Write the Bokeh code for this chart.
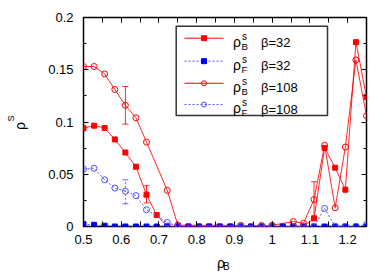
import math
from bokeh.plotting import figure
from bokeh.models import (ColumnDataSource, Whisker, TeeHead, SingleIntervalTicker,
                          LinearAxis, CustomJSTickFormatter, Label, Range1d)
from bokeh.embed import file_html
from bokeh.resources import INLINE

# ---------------- data ----------------
x_32 = [0.5, 0.528, 0.556, 0.583, 0.611, 0.639, 0.667, 0.694, 0.722, 0.75,
        0.778, 0.806, 0.833, 0.861, 0.889, 0.917, 0.944, 0.972, 1.0, 1.028,
        1.056, 1.083, 1.111, 1.139, 1.167, 1.194, 1.222, 1.25]
rhoB_32 = [0.094, 0.0965, 0.0943, 0.0833, 0.0708, 0.0572, 0.0305, 0.011, 0.0, 0.0,
           0.0, 0.0, 0.0, 0.0, 0.0, 0.0, 0.0, 0.0, 0.0, 0.0,
           0.0, 0.0, 0.0078, 0.0752, 0.0563, 0.0352, 0.1764, 0.1239]
rhoF_32 = [0.0022, 0.0016, 0.0007, 0.0, 0.0, 0.0, 0.0, 0.0, 0.0, 0.0,
           0.0, 0.0, 0.0, 0.0, 0.0, 0.0, 0.0, 0.0, 0.0, 0.0,
           0.0, 0.0, 0.0, 0.0, 0.0, 0.0, 0.0, 0.0]

x_108 = [0.5, 0.528, 0.556, 0.583, 0.611, 0.639, 0.667, 0.722, 0.75, 0.917,
         0.972, 1.0, 1.056, 1.083, 1.111, 1.139, 1.167, 1.194, 1.222, 1.25]
rhoB_108 = [0.1531, 0.1531, 0.146, 0.1311, 0.116, 0.104, 0.0808, 0.0346, 0.0013, 0.001,
            0.001, 0.0012, 0.0047, 0.0031, 0.0258, 0.0777, 0.0179, 0.0761, 0.1594, 0.106]
rhoF_108 = [0.055, 0.0557, 0.0447, 0.0368, 0.0337, 0.0296, 0.016, 0.0038, 0.0003, 0.0,
            0.0, 0.0, 0.0, 0.0, 0.0, 0.0173, 0.0, 0.0, 0.0, 0.002]

errB32_x = [0.667]
errB32_lo = [0.0226]
errB32_hi = [0.039]
errB108_x = [0.611, 1.111]
errB108_lo = [0.098, 0.0088]
errB108_hi = [0.134, 0.0428]
errF108_x = [0.611]
errF108_lo = [0.0217]
errF108_hi = [0.0447]

legend_labels = [("B", "β=32"), ("F", "β=32"), ("B", "β=108"), ("F", "β=108")]

# ---------------- style ----------------
FONT = "Liberation Sans"
RED = "#ff0000"
BLUE = "#0000ff"
BLUE_LINE = "#4d4dff"
DOT = "2 2"

X0, X1, Y0, Y1 = 0.5, 1.25, 0.0, 0.2
W, H = 390, 273
# pixel geometry of the frame (used only for legend / title placement)
FL, FR, FT, FB = 83.0, 366.0, 17.0, 229.0


def dx(px):
    return X0 + (px - FL) * (X1 - X0) / (FR - FL)


def dy(py):
    return Y0 + (FB - py) * (Y1 - Y0) / (FB - FT)


p = figure(width=W, height=H, output_backend="svg", toolbar_location=None,
           x_range=Range1d(X0, X1), y_range=Range1d(Y0, Y1),
           min_border_left=int(FL), min_border_right=int(W - FR),
           min_border_top=int(FT), min_border_bottom=int(H - FB))
p.grid.visible = False
p.outline_line_color = "black"
p.outline_line_width = 1.5
p.background_fill_color = "white"
p.border_fill_color = "white"

fmt = CustomJSTickFormatter(code="return String(parseFloat(tick.toFixed(3)));")
blank = CustomJSTickFormatter(code="return '';")


def style_axis(ax, ticker, labels=True, standoff=8):
    ax.ticker = ticker
    ax.axis_line_color = None
    ax.major_tick_in = 5
    ax.major_tick_out = 0
    ax.minor_tick_in = 3
    ax.minor_tick_out = 0
    ax.major_tick_line_color = "black"
    ax.minor_tick_line_color = "black"
    ax.major_label_text_font = FONT
    ax.major_label_text_color = "black"
    ax.major_label_text_font_size = "13px"
    if labels:
        ax.formatter = fmt
        ax.major_label_standoff = standoff
    else:
        ax.formatter = blank
        ax.major_label_standoff = 0


style_axis(p.xaxis[0], SingleIntervalTicker(interval=0.1, num_minor_ticks=2), True, 8)
style_axis(p.yaxis[0], SingleIntervalTicker(interval=0.05, num_minor_ticks=2), True, 10)
p.xaxis[0].minor_tick_in = 5

top_ax = LinearAxis()
style_axis(top_ax, SingleIntervalTicker(interval=0.1, num_minor_ticks=2), False)
top_ax.minor_tick_in = 5
p.add_layout(top_ax, "above")
right_ax = LinearAxis()
style_axis(right_ax, SingleIntervalTicker(interval=0.05, num_minor_ticks=2), False)
p.add_layout(right_ax, "right")

# ---------------- error bars ----------------
def whisk(xs, lo, hi, color, dash="solid"):
    src = ColumnDataSource(dict(x=xs, lower=lo, upper=hi))
    w = Whisker(source=src, base="x", lower="lower", upper="upper",
                line_color=color, line_width=1, line_dash=dash, line_alpha=0.85,
                upper_head=TeeHead(size=6, line_color=color, line_width=1, line_alpha=0.85),
                lower_head=TeeHead(size=6, line_color=color, line_width=1, line_alpha=0.85))
    p.add_layout(w)


whisk(errB32_x, errB32_lo, errB32_hi, RED)
whisk(errB108_x, errB108_lo, errB108_hi, RED)
whisk(errF108_x, errF108_lo, errF108_hi, BLUE_LINE, DOT)

# ---------------- series ----------------
p.line(x_32, rhoB_32, line_color=RED, line_width=1, line_alpha=0.85)
p.scatter(x_32, rhoB_32, marker="square", size=5, fill_color=RED, line_color=RED)

p.line(x_32, rhoF_32, line_color=BLUE_LINE, line_width=1, line_dash=DOT)
p.scatter(x_32, rhoF_32, marker="square", size=5, fill_color=BLUE, line_color=BLUE)

p.line(x_108, rhoB_108, line_color=RED, line_width=1, line_alpha=0.85)
p.scatter(x_108, rhoB_108, marker="circle", size=6, fill_color=None,
          line_color=RED, line_width=1)

p.line(x_108, rhoF_108, line_color=BLUE_LINE, line_width=1, line_dash=DOT)
p.scatter(x_108, rhoF_108, marker="circle", size=6, fill_color=None,
          line_color=BLUE_LINE, line_width=1)

# ---------------- legend (drawn by hand for sub/superscripts) ----------------
p.quad(left=[dx(175.7)], right=[dx(327.0)], top=[dy(26.0)], bottom=[dy(116.5)],
       fill_color="white", line_color="#333333", line_width=1.5)

rows = [38.0, 61.3, 83.7, 105.3]
styles = [
    dict(color=RED, dash="solid", marker="square", fill=RED),
    dict(color=BLUE_LINE, dash=DOT, marker="square", fill=BLUE),
    dict(color=RED, dash="solid", marker="circle", fill=None),
    dict(color=BLUE_LINE, dash=DOT, marker="circle", fill=None),
]
for ry, st, (sub, beta) in zip(rows, styles, legend_labels):
    p.line([dx(184), dx(223)], [dy(ry), dy(ry)], line_color=st["color"],
           line_width=1, line_dash=st["dash"])
    mcol = BLUE if st["fill"] == BLUE else st["color"]
    p.scatter([dx(203.5)], [dy(ry)], marker=st["marker"], size=5,
              fill_color=st["fill"], line_color=mcol, line_width=1)
    p.add_layout(Label(x=dx(232.5), y=dy(ry + 3.5), text="ρ", text_font=FONT,
                       text_font_size="14px", text_color="black",
                       text_baseline="alphabetic", text_align="left"))
    p.add_layout(Label(x=dx(241.5), y=dy(ry - 2.0), text="s", text_font=FONT,
                       text_font_size="10px", text_color="black",
                       text_baseline="alphabetic", text_align="left"))
    p.add_layout(Label(x=dx(241.0), y=dy(ry + 8.0), text=sub, text_font=FONT,
                       text_font_size="9.5px", text_color="black",
                       text_baseline="alphabetic", text_align="left"))
    p.add_layout(Label(x=dx(260.5), y=dy(ry + 4.7), text=beta, text_font=FONT,
                       text_font_size="13px", text_color="black",
                       text_baseline="alphabetic", text_align="left"))

# ---------------- axis titles (in the side panels, so they are not clipped) ----------------
p.add_layout(Label(x=dx(19.5), y=dy(127.0), text="ρ", angle=math.pi / 2,
                   text_font=FONT, text_font_size="14px", text_color="black",
                   text_baseline="alphabetic", text_align="center"), "left")
p.add_layout(Label(x=dx(10.5), y=dy(119.5), text="S", angle=math.pi / 2,
                   text_font=FONT, text_font_size="9px", text_color="black",
                   text_baseline="alphabetic", text_align="center"), "left")
p.add_layout(Label(x=dx(216.5), y=dy(266.0), text="ρ", text_font=FONT,
                   text_font_size="14px", text_color="black",
                   text_baseline="alphabetic", text_align="left"), "below")
p.add_layout(Label(x=dx(222.5), y=dy(269.5), text="B", text_font=FONT,
                   text_font_size="10px", text_color="black",
                   text_baseline="alphabetic", text_align="left"), "below")

open("out.html", "w").write(file_html(p, INLINE))
